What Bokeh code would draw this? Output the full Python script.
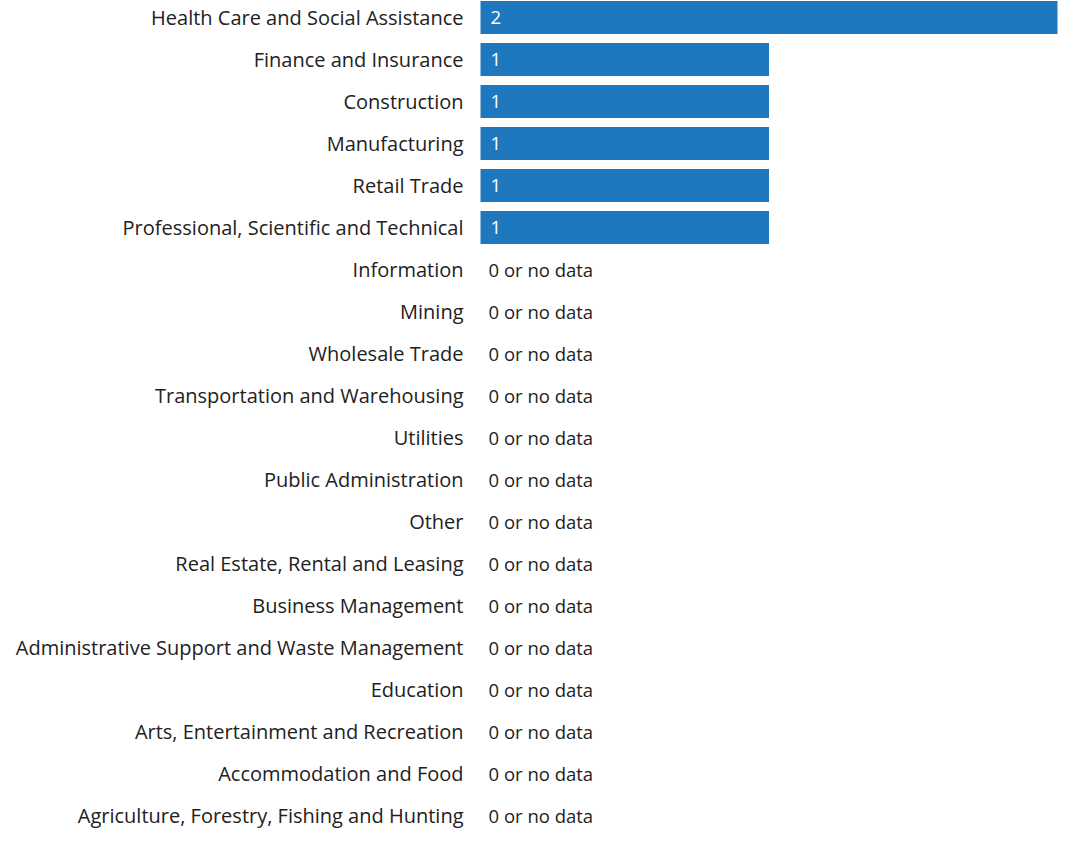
from bokeh.plotting import figure
from bokeh.models import ColumnDataSource, Range1d
from bokeh.core.properties import value
from bokeh.embed import file_html
from bokeh.resources import INLINE

categories = [
    "Health Care and Social Assistance",
    "Finance and Insurance",
    "Construction",
    "Manufacturing",
    "Retail Trade",
    "Professional, Scientific and Technical",
    "Information",
    "Mining",
    "Wholesale Trade",
    "Transportation and Warehousing",
    "Utilities",
    "Public Administration",
    "Other",
    "Real Estate, Rental and Leasing",
    "Business Management",
    "Administrative Support and Waste Management",
    "Education",
    "Arts, Entertainment and Recreation",
    "Accommodation and Food",
    "Agriculture, Forestry, Fishing and Hunting",
]
counts = [2, 1, 1, 1, 1, 1, 0, 0, 0, 0, 0, 0, 0, 0, 0, 0, 0, 0, 0, 0]
empty_label = "0 or no data"

W, H = 1058, 830
pitch = 42.0
first_center = 17.0
zero_px = 480.0
px_per_unit = (1057.0 - zero_px) / 2.0

rows = list(range(len(categories)))
src = ColumnDataSource(dict(
    y=rows,
    cat=categories,
    v=counts,
    zero=[0] * len(categories),
    vlabel=[str(c) if c > 0 else empty_label for c in counts],
    vcolor=["#ffffff" if c > 0 else "#222222" for c in counts],
    voff=[10 if c > 0 else 8 for c in counts],
))

p = figure(
    width=W, height=H,
    x_range=Range1d(-zero_px / px_per_unit, (W - zero_px) / px_per_unit),
    y_range=Range1d((H - first_center) / pitch, -first_center / pitch),
    output_backend="svg", toolbar_location=None,
    min_border=0,
)
p.xaxis.visible = False
p.yaxis.visible = False
p.grid.visible = False
p.outline_line_color = None
p.background_fill_color = "#ffffff"
p.border_fill_color = "#ffffff"

p.hbar(y="y", left="zero", right="v", height=0.786, source=src,
       fill_color="#1f78be", line_color=None)

p.text(x="zero", y="y", text="cat", source=src, x_offset=-17,
       text_align="right", text_baseline="middle",
       text_font=value("Open Sans"), text_font_size="20px", text_color="#222222")

p.text(x="zero", y="y", text="vlabel", source=src, x_offset="voff",
       text_align="left", text_baseline="middle", text_color="vcolor",
       text_font=value("Open Sans"), text_font_size="18.5px")

open("out.html", "w").write(file_html(p, INLINE))
